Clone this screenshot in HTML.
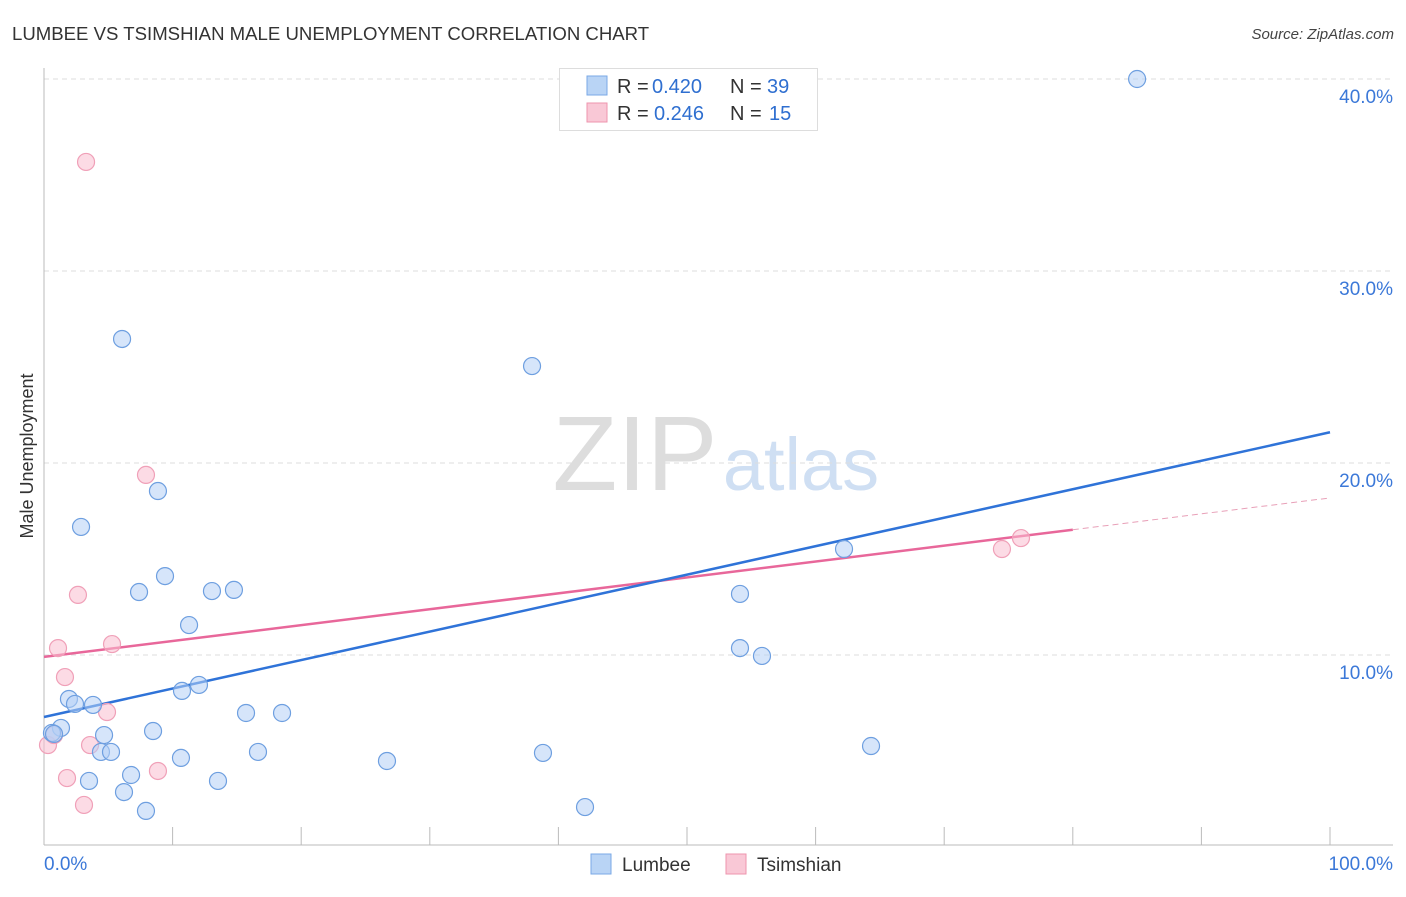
<!DOCTYPE html>
<html><head><meta charset="utf-8"><style>
body{margin:0;background:#fff;font-family:"Liberation Sans",sans-serif;}
svg text{font-family:"Liberation Sans",sans-serif;}
</style></head><body>
<svg id="chart" width="1406" height="892" xmlns="http://www.w3.org/2000/svg">
<text x="12" y="40" font-size="18.6" fill="#333">LUMBEE VS TSIMSHIAN MALE UNEMPLOYMENT CORRELATION CHART</text>
<text x="1394" y="39" font-size="15" fill="#444" font-style="italic" text-anchor="end">Source: ZipAtlas.com</text>
<text transform="translate(33,456) rotate(-90)" font-size="18" fill="#333" text-anchor="middle">Male Unemployment</text>
<g>
<text x="635" y="490" font-size="106" fill="#ddd" font-family="Liberation Serif,serif" text-anchor="middle">ZIP</text>
<text x="801" y="490" font-size="74" fill="#cfdff3" text-anchor="middle">atlas</text>
</g>
<g id="grid"></g><g id="axes"></g><g id="lines"></g><g id="points"></g>
<g>
<rect x="559.5" y="68.5" width="258" height="62" fill="#fff" stroke="#ddd"/>
<rect x="587" y="76" width="20" height="19" fill="#b9d4f5" stroke="#7aa8e6"/>
<text x="617" y="93" font-size="20" fill="#333">R =</text>
<text x="652" y="93" font-size="20" fill="#2f6fd0">0.420</text>
<text x="730" y="93" font-size="20" fill="#333">N =</text>
<text x="767" y="93" font-size="20" fill="#2f6fd0">39</text>
<rect x="587" y="103" width="20" height="19" fill="#f9c8d6" stroke="#ee94ae"/>
<text x="617" y="120" font-size="20" fill="#333">R =</text>
<text x="654" y="120" font-size="20" fill="#2f6fd0">0.246</text>
<text x="730" y="120" font-size="20" fill="#333">N =</text>
<text x="769" y="120" font-size="20" fill="#2f6fd0">15</text>
</g>
<g>
<rect x="591" y="854" width="20" height="20" fill="#b9d4f5" stroke="#7aa8e6"/>
<text x="622" y="871" font-size="19" fill="#333">Lumbee</text>
<rect x="726" y="854" width="20" height="20" fill="#f9c8d6" stroke="#ee94ae"/>
<text x="757" y="871" font-size="19" fill="#333">Tsimshian</text>
</g>
</svg>
<script>
const blueX=[6.07,37.95,85.0,8.86,2.88,9.41,7.39,13.06,14.77,11.28,54.12,62.21,54.12,55.83,10.73,12.05,1.94,2.41,3.81,15.71,18.51,1.32,0.62,0.78,4.67,8.48,4.43,5.21,10.65,16.64,26.67,38.8,64.31,6.77,3.50,13.53,6.22,7.93,42.07];
const blueY=[26.46,25.05,40.0,18.54,16.67,14.11,13.28,13.33,13.39,11.56,13.18,15.52,10.36,9.95,8.13,8.44,7.71,7.45,7.40,6.98,6.98,6.20,5.94,5.89,5.83,6.04,4.95,4.95,4.64,4.95,4.48,4.90,5.26,3.75,3.44,3.44,2.86,1.88,2.08];
const pinkX=[3.27,7.93,2.64,1.09,5.29,1.63,4.90,3.58,0.31,0.78,1.79,8.86,3.11,74.49,75.97];
const pinkY=[35.68,19.38,13.13,10.36,10.57,8.85,7.03,5.31,5.31,5.83,3.59,3.96,2.19,15.52,16.09];
const blueTrend=[6.77,21.6];
const pinkTrend=[9.9,18.18];
const pinkSolidEnd=80;
const yTicks=[10,20,30,40];
const yTickLabels=["10.0%","20.0%","30.0%","40.0%"];
const xLabels=["0.0%","100.0%"];
const ns="http://www.w3.org/2000/svg";
const X=v=>44+v*12.86, Y=v=>847-v*19.2;
function mk(t,a,p){const e=document.createElementNS(ns,t);for(const k in a)e.setAttribute(k,a[k]);document.getElementById(p).appendChild(e);return e;}
yTicks.forEach((t,i)=>{
 const g=mk('line',{x1:44,x2:1393,y1:Y(t),y2:Y(t),stroke:'#ddd','stroke-dasharray':'5,4'},'grid');
 
 
 const l=mk('text',{x:1393,y:Y(t)+24,'font-size':19,fill:'#3b78d8','text-anchor':'end'},'axes');
 l.textContent=yTickLabels[i];
 
 
});
let a=mk('line',{x1:44,x2:44,y1:68,y2:845,stroke:'#bbb'},'axes');


a=mk('line',{x1:44,x2:1393,y1:845,y2:845,stroke:'#bbb'},'axes');


for(let i=0;i<=100;i+=10){const t=mk('line',{x1:X(i),x2:X(i),y1:827,y2:845,stroke:'#bbb'},'axes');
 
 }
let xl=mk('text',{x:44,y:870,'font-size':19,fill:'#3b78d8'},'axes');xl.textContent=xLabels[0];


xl=mk('text',{x:1393,y:870,'font-size':19,fill:'#3b78d8','text-anchor':'end'},'axes');xl.textContent=xLabels[1];


pinkX.forEach((x,i)=>{const c=mk('circle',{cx:X(x),cy:Y(pinkY[i]),r:8.5,fill:'rgba(249,190,208,0.55)',stroke:'#f0a0b8','stroke-width':1.2},'points');
 
 });
blueX.forEach((x,i)=>{const c=mk('circle',{cx:X(x),cy:Y(blueY[i]),r:8.5,fill:'rgba(180,208,245,0.55)',stroke:'#6e9fe0','stroke-width':1.2},'points');
 
 });
const pe=pinkTrend[0]+(pinkTrend[1]-pinkTrend[0])*pinkSolidEnd/100;
let l=mk('line',{x1:X(0),y1:Y(pinkTrend[0]),x2:X(pinkSolidEnd),y2:Y(pe),stroke:'#e8679a','stroke-width':2.5},'lines');


l=mk('line',{x1:X(pinkSolidEnd),y1:Y(pe),x2:X(100),y2:Y(pinkTrend[1]),stroke:'#e8a0b8','stroke-width':1,'stroke-dasharray':'6,4'},'lines');


l=mk('line',{x1:X(0),y1:Y(blueTrend[0]),x2:X(100),y2:Y(blueTrend[1]),stroke:'#2f73d8','stroke-width':2.5},'lines');


</script>
</body></html>
